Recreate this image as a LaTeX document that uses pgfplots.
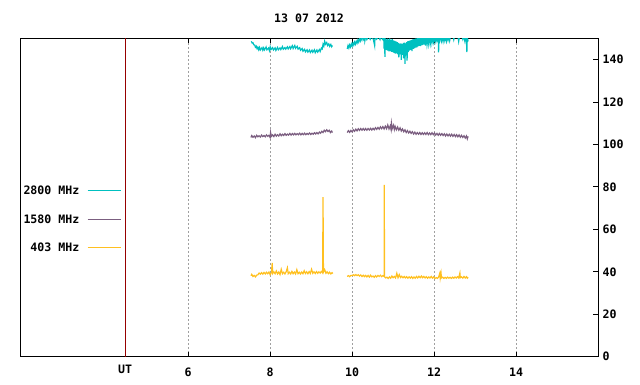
\documentclass[border=0pt]{standalone}
\usepackage{fontspec}
\setmainfont{DejaVu Sans Mono}
\usepackage{pgfplots}
\pgfplotsset{compat=1.18}
\definecolor{c2800}{RGB}{0,192,192}
\definecolor{c1580}{RGB}{123,94,128}
\definecolor{c403}{RGB}{255,192,32}
\definecolor{utred}{RGB}{150,0,0}
\definecolor{gridgray}{RGB}{160,160,160}
\newcommand{\gfont}{\bfseries\fontsize{11.6}{12}\selectfont}
\begin{document}
\begin{tikzpicture}
\useasboundingbox (0,0) rectangle (640pt,384pt);
\begin{axis}[
  at={(20pt,27.3pt)}, anchor=south west,
  scale only axis, width=578pt, height=318.4pt,
  xmin=1.895, xmax=16, ymin=0, ymax=150,
  axis line style={black, line width=0.8pt},
  tick style={black, line width=0.8pt},
  major tick length=5pt,
  xtick={6,8,10,12,14},
  xticklabels={6,8,10,12,14},
  extra x ticks={4.463},
  extra x tick labels={UT},
  extra x tick style={grid=none, major tick length=0pt, xticklabel style={yshift=2.7pt}},
  xtick pos=both,
  ytick={0,20,...,140},
  ytick pos=right,
  yticklabel pos=right,
  xmajorgrids,
  major grid style={gridgray, line width=0.8pt, dash pattern=on 1.5pt off 2.5pt},
  /pgf/number format/assume math mode=true,
  tick label style={font=\gfont},
  xticklabel style={yshift=-8pt},
  yticklabel style={xshift=1pt},
  title={13 07 2012},
  title style={font=\gfont, at={(0.5,1)}, anchor=south, inner sep=0pt, yshift=9pt},
  legend plot pos=right,
  legend cell align=right,
  legend image code/.code={\draw[#1, line width=0.9pt] (0pt,0pt) -- (33pt,0pt);},
  legend style={draw=none, fill=none, at={(axis description cs:0.1747,0.4315)}, anchor=east,
    inner sep=0pt, outer sep=0pt, row sep=20.5pt, column sep=7.7pt,
    nodes={inner sep=0pt, text height=8pt, text depth=0pt, font=\gfont}},
  every axis plot/.append style={line width=1.2pt},
]
% 2800 MHz
\addplot[c2800] coordinates {
(7.54,148.6)(7.56,147.8)(7.58,147.9)(7.60,146.9)(7.62,146.9)(7.64,145.8)(7.66,146.3)(7.68,145.1)
(7.70,145.8)(7.72,144.6)(7.74,145.7)(7.76,144.5)(7.80,145.6)(7.82,144.4)(7.84,145.5)(7.86,144.5)
(7.90,145.9)(7.92,144.6)(7.96,145.4)(7.98,144.2)(8.00,146.0)(8.02,144.7)(8.06,145.6)(8.08,144.5)
(8.12,145.5)(8.14,144.3)(8.18,145.7)(8.20,144.6)(8.24,145.5)(8.26,144.7)(8.30,146.1)(8.32,144.8)
(8.36,145.6)(8.38,144.9)(8.42,146.0)(8.44,145.0)(8.48,146.1)(8.50,145.1)(8.54,146.5)(8.56,145.2)
(8.60,146.6)(8.62,145.3)(8.66,146.2)(8.68,144.9)(8.72,145.6)(8.74,144.4)(8.78,145.2)(8.80,143.9)
(8.84,144.8)(8.86,143.6)(8.90,144.6)(8.92,143.5)(8.96,144.5)(8.98,143.3)(9.02,144.4)(9.04,143.4)
(9.08,144.6)(9.10,143.2)(9.14,144.5)(9.16,143.5)(9.20,144.7)(9.22,143.8)(9.25,145.4)(9.27,145.0)
(9.29,147.2)(9.31,146.3)(9.33,148.6)(9.35,147.2)(9.38,148.0)(9.40,146.6)(9.43,147.4)(9.45,146.2)
(9.48,147.1)(9.50,146.0)(9.52,146.6)
};
\addlegendentry{2800 MHz}
\addplot[c2800, forget plot] coordinates {
(9.88,145.0)(9.90,146.6)(9.92,145.4)(9.94,146.9)(9.96,145.9)(9.98,147.3)(10.00,146.3)(10.02,147.8)
(10.04,146.8)(10.06,148.2)(10.08,147.2)(10.10,148.6)(10.12,147.7)(10.14,149.2)(10.16,148.2)(10.18,149.8)
(10.20,148.8)(10.22,150.5)(10.24,149.3)(10.26,151)(10.28,149.6)(10.30,151)(10.31,148.8)(10.33,151)
(10.36,149.4)(10.40,151)(10.44,149.5)(10.48,151)(10.52,149.3)(10.55,146.5)(10.56,151)(10.60,149.6)
(10.64,151)(10.68,149.4)(10.70,151)(10.74,149.6)(10.77,151)(10.78,145.2)(10.79,150.5)(10.80,141.3)
(10.81,150)(10.82,145.0)(10.83,149.5)(10.84,144.5)(10.86,149.8)(10.87,144.2)(10.89,149.5)(10.90,143.8)
(10.92,150)(10.93,144.0)(10.95,149.2)(10.96,143.6)(10.98,149.6)(10.99,143.5)(11.01,149.0)(11.02,143.2)
(11.04,148.8)(11.05,142.8)(11.07,148.5)(11.08,142.9)(11.10,148.2)(11.11,142.5)(11.13,147.8)(11.14,141.0)
(11.16,147.5)(11.17,142.4)(11.19,147.6)(11.20,139.8)(11.22,147.2)(11.23,142.2)(11.25,147.8)(11.26,140.5)
(11.28,148.0)(11.29,137.9)(11.30,147.6)(11.31,142.0)(11.33,148.2)(11.34,139.5)(11.36,148.6)(11.37,143.5)
(11.39,148.8)(11.40,144.2)(11.42,149.0)(11.43,144.6)(11.45,149.2)(11.46,144.0)(11.48,149.5)(11.49,145.0)
(11.51,149.6)(11.52,145.3)(11.54,149.8)(11.55,145.6)(11.57,150.0)(11.58,145.8)(11.60,150.2)(11.61,146.2)
(11.63,150.5)(11.64,146.5)(11.66,150.8)(11.67,146.3)(11.70,151)(11.71,146.8)(11.74,151)(11.75,147.0)
(11.78,151)(11.79,146.6)(11.82,151)(11.83,147.2)(11.86,151)(11.87,147.5)(11.90,151)(11.91,147.6)
(11.94,151)(11.95,148.0)(11.98,151)(11.99,148.4)(12.02,151)(12.03,148.6)(12.06,151)(12.07,149.0)
(12.10,151)(12.11,143.4)(12.12,151)(12.14,149.0)(12.16,151)(12.18,148.8)(12.20,151)(12.22,148.6)
(12.24,151)(12.26,149.0)(12.28,151)(12.30,148.7)(12.32,151)(12.34,149.2)(12.36,151)(12.38,148.9)
(12.40,151)(12.46,151)(12.48,149.3)(12.50,151)(12.58,151)(12.60,148.5)(12.62,151)(12.68,151)
(12.70,149.6)(12.72,151)(12.75,148.6)(12.77,151)(12.79,148.2)(12.80,143.5)(12.81,150.5)(12.83,148.5)
};
% 1580 MHz
\addplot[c1580] coordinates {
(7.53,103.3)(7.55,104.2)(7.58,103.4)(7.61,104.0)(7.64,103.2)(7.67,104.3)(7.70,103.6)(7.73,104.1)
(7.76,103.5)(7.79,104.4)(7.82,103.7)(7.85,104.2)(7.88,103.6)(7.91,104.5)(7.94,103.8)(7.97,104.3)
(8.00,103.2)(8.01,105.6)(8.03,103.8)(8.06,104.5)(8.09,103.7)(8.12,104.8)(8.15,103.9)(8.18,104.6)
(8.21,104.0)(8.24,105.0)(8.27,104.1)(8.30,104.8)(8.33,104.2)(8.36,105.1)(8.39,104.3)(8.42,104.9)
(8.45,104.4)(8.48,105.2)(8.51,104.4)(8.54,105.1)(8.57,104.5)(8.60,105.2)(8.63,104.5)(8.66,105.1)
(8.69,104.6)(8.72,105.3)(8.75,104.5)(8.78,105.2)(8.81,104.6)(8.84,105.3)(8.87,104.6)(8.90,105.2)
(8.93,104.7)(8.96,105.4)(8.99,104.7)(9.02,105.3)(9.05,104.8)(9.08,105.5)(9.11,104.9)(9.14,105.6)
(9.17,105.0)(9.20,105.8)(9.23,105.3)(9.26,106.2)(9.29,105.6)(9.32,106.7)(9.35,106.0)(9.38,106.9)
(9.41,106.1)(9.44,106.7)(9.47,105.6)(9.50,106.3)(9.52,105.6)
};
\addlegendentry{1580 MHz}
\addplot[c1580, forget plot] coordinates {
(9.88,105.6)(9.91,106.5)(9.94,105.7)(9.97,106.6)(10.00,105.9)(10.03,106.9)(10.06,106.2)(10.09,107.2)
(10.12,106.4)(10.15,107.4)(10.18,106.6)(10.21,107.5)(10.24,106.7)(10.27,107.5)(10.30,106.7)(10.33,107.5)
(10.36,106.7)(10.39,107.5)(10.42,106.8)(10.45,107.6)(10.48,106.8)(10.51,107.6)(10.54,106.9)(10.57,107.9)
(10.60,107.1)(10.63,108.0)(10.66,107.2)(10.69,108.3)(10.72,107.4)(10.75,108.4)(10.78,107.3)(10.81,108.6)
(10.84,107.4)(10.87,109.2)(10.90,107.3)(10.93,108.8)(10.95,107.0)(10.96,110.0)(10.98,107.5)(11.01,109.0)
(11.03,107.0)(11.05,108.5)(11.08,106.9)(11.11,108.2)(11.14,106.7)(11.17,107.8)(11.20,106.3)(11.23,107.3)
(11.26,106.0)(11.29,106.9)(11.32,105.6)(11.35,106.5)(11.38,105.4)(11.41,106.2)(11.44,105.2)(11.47,106.0)
(11.50,104.9)(11.53,105.8)(11.56,104.8)(11.59,105.6)(11.62,104.8)(11.65,105.6)(11.68,104.7)(11.71,105.5)
(11.74,104.7)(11.77,105.5)(11.80,104.7)(11.83,105.6)(11.86,104.6)(11.89,105.4)(11.92,104.6)(11.95,105.5)
(11.98,104.6)(12.01,105.4)(12.04,104.4)(12.07,105.2)(12.10,104.3)(12.13,105.2)(12.16,104.3)(12.19,105.1)
(12.22,104.2)(12.25,105.0)(12.28,104.0)(12.31,104.9)(12.34,104.0)(12.37,104.8)(12.40,103.9)(12.43,104.8)
(12.46,103.8)(12.49,104.7)(12.52,103.7)(12.55,104.6)(12.58,103.6)(12.61,104.5)(12.64,103.4)(12.67,104.3)
(12.70,103.3)(12.73,104.1)(12.76,103.0)(12.79,104.0)(12.81,102.6)(12.83,103.8)
};
% 403 MHz
\addplot[c403] coordinates {
(7.53,38.2)(7.55,38.8)(7.58,37.8)(7.61,38.3)(7.64,37.6)(7.67,38.4)(7.70,38.6)(7.73,39.4)
(7.76,38.9)(7.79,39.6)(7.82,38.9)(7.85,39.7)(7.88,39.0)(7.91,39.8)(7.94,39.1)(7.97,39.9)
(8.00,38.6)(8.03,39.6)(8.05,44.2)(8.06,39.2)(8.09,40.0)(8.12,39.1)(8.15,40.4)(8.18,39.0)
(8.21,39.9)(8.24,38.7)(8.27,41.2)(8.30,39.1)(8.33,39.8)(8.36,39.0)(8.39,40.0)(8.42,41.9)
(8.44,39.1)(8.47,39.8)(8.50,39.0)(8.53,40.2)(8.56,39.1)(8.59,39.9)(8.62,39.0)(8.65,41.0)
(8.68,39.1)(8.71,39.8)(8.74,39.0)(8.77,39.9)(8.80,39.1)(8.83,40.5)(8.86,39.2)(8.89,40.0)
(8.92,39.1)(8.95,40.1)(8.98,39.2)(9.01,41.2)(9.04,39.3)(9.07,40.0)(9.10,39.2)(9.13,40.1)
(9.16,39.3)(9.19,40.0)(9.22,39.4)(9.25,40.2)(9.28,39.5)(9.29,75.2)(9.30,39.8)(9.33,41.0)
(9.36,39.3)(9.39,40.0)(9.42,39.1)(9.45,39.8)(9.48,39.0)(9.51,39.6)(9.53,39.2)
};
\addlegendentry{403 MHz}
\addplot[c403, forget plot] coordinates {
(9.88,37.8)(9.91,38.2)(9.94,37.7)(9.97,38.3)(10.00,38.2)(10.03,38.6)(10.06,38.2)(10.09,38.7)
(10.12,38.2)(10.15,38.6)(10.18,38.0)(10.21,38.5)(10.24,37.8)(10.27,38.4)(10.30,37.7)(10.33,38.3)
(10.36,37.6)(10.39,38.3)(10.42,37.5)(10.45,38.4)(10.48,37.6)(10.51,38.0)(10.54,37.4)(10.57,38.2)
(10.60,37.6)(10.63,38.3)(10.66,37.8)(10.69,38.4)(10.72,37.7)(10.75,38.2)(10.78,37.8)(10.785,80.9)
(10.79,37.6)(10.82,37.1)(10.85,37.5)(10.88,36.9)(10.91,37.6)(10.94,37.0)(10.97,38.0)(11.00,37.2)
(11.03,37.8)(11.06,37.1)(11.09,39.3)(11.12,37.2)(11.15,38.7)(11.18,37.3)(11.21,37.9)(11.24,37.2)
(11.27,37.8)(11.30,37.1)(11.33,37.7)(11.36,37.0)(11.39,37.6)(11.42,37.0)(11.45,37.7)(11.48,36.9)
(11.51,37.6)(11.54,37.0)(11.57,37.8)(11.60,37.1)(11.63,37.9)(11.66,37.2)(11.69,38.0)(11.72,37.2)
(11.75,37.8)(11.78,37.1)(11.81,37.7)(11.84,37.0)(11.87,37.6)(11.90,37.1)(11.93,37.8)(11.96,37.0)
(11.99,37.6)(12.02,36.8)(12.05,37.3)(12.08,36.9)(12.11,37.5)(12.14,39.4)(12.15,37.0)(12.17,39.3)
(12.18,37.1)(12.21,37.5)(12.24,36.9)(12.27,37.4)(12.30,36.9)(12.33,37.5)(12.36,37.0)(12.39,37.4)
(12.42,36.9)(12.45,37.5)(12.48,37.0)(12.51,37.6)(12.54,37.1)(12.57,37.7)(12.60,37.1)(12.63,39.4)
(12.64,37.2)(12.67,37.6)(12.70,37.0)(12.73,37.8)(12.76,37.1)(12.79,37.7)(12.81,37.0)(12.83,37.4)
};
% UT marker line
\addplot[utred, line width=0.8pt, forget plot] coordinates {(4.463,0) (4.463,150)};
\end{axis}
\end{tikzpicture}
\end{document}
